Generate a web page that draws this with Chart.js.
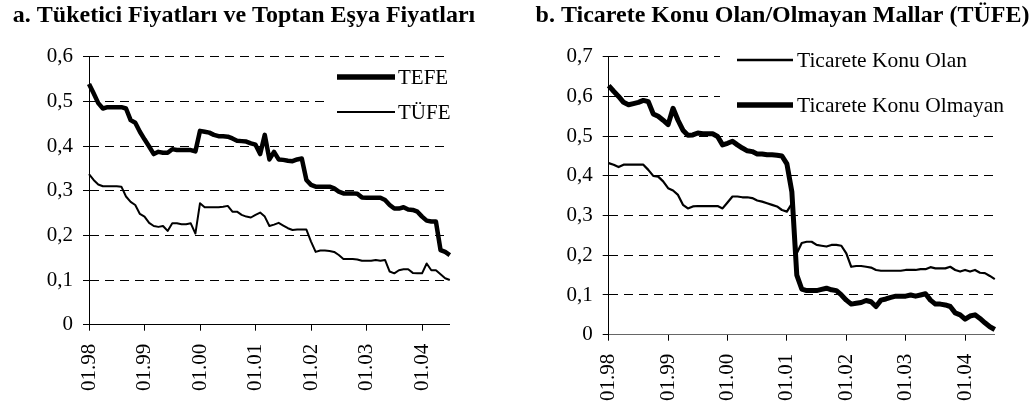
<!DOCTYPE html>
<html>
<head>
<meta charset="utf-8">
<script src="https://cdn.jsdelivr.net/npm/chart.js@4.4.1/dist/chart.umd.min.js"></script>
<style>
  html, body { margin: 0; padding: 0; background: #fff; }
  body { width: 1033px; height: 406px; position: relative; overflow: hidden; }
  canvas { position: absolute; top: 0; }
  #c1 { left: 0; }
  #c2 { left: 532px; }
</style>
</head>
<body>
<canvas id="c1" width="488" height="406"></canvas>
<canvas id="c2" width="501" height="406"></canvas>
<script>
// monthly observations 01.98 - 07.04
const months = [];
for (let y = 1998; y <= 2004; y++) {
  for (let m = 1; m <= 12; m++) {
    if (y === 2004 && m > 7) break;
    months.push(String(m).padStart(2, '0') + '.' + String(y % 100).padStart(2, '0'));
  }
}

// a. TEFE / TÜFE
const tefe = [
  0.539, 0.518, 0.496, 0.484, 0.487, 0.487, 0.487, 0.487, 0.484, 0.458,
  0.452, 0.432, 0.415, 0.399, 0.382, 0.387, 0.385, 0.385, 0.393, 0.391,
  0.391, 0.391, 0.391, 0.388, 0.434, 0.432, 0.430, 0.425, 0.422, 0.422,
  0.421, 0.417, 0.412, 0.411, 0.410, 0.406, 0.403, 0.382, 0.425, 0.370,
  0.387, 0.370, 0.369, 0.367, 0.366, 0.370, 0.372, 0.324, 0.313, 0.309,
  0.309, 0.309, 0.309, 0.305, 0.298, 0.294, 0.294, 0.294, 0.293, 0.285,
  0.284, 0.284, 0.284, 0.284, 0.279, 0.268, 0.260, 0.260, 0.263, 0.258,
  0.257, 0.253, 0.242, 0.233, 0.231, 0.231, 0.167, 0.163, 0.156
];
const tufe = [
  0.337, 0.324, 0.314, 0.310, 0.310, 0.310, 0.310, 0.309, 0.287, 0.275,
  0.268, 0.248, 0.242, 0.228, 0.221, 0.219, 0.221, 0.210, 0.227, 0.227,
  0.225, 0.225, 0.227, 0.204, 0.272, 0.263, 0.263, 0.263, 0.263, 0.264,
  0.266, 0.253, 0.253, 0.246, 0.242, 0.240, 0.246, 0.251, 0.242, 0.221,
  0.224, 0.228, 0.222, 0.216, 0.212, 0.213, 0.213, 0.213, 0.186, 0.163,
  0.166, 0.166, 0.165, 0.163, 0.156, 0.147, 0.147, 0.147, 0.146, 0.143,
  0.143, 0.143, 0.145, 0.143, 0.145, 0.119, 0.115, 0.122, 0.124, 0.124,
  0.116, 0.115, 0.115, 0.137, 0.122, 0.122, 0.113, 0.104, 0.100
];

// b. ticarete konu olan / olmayan mallar
const konuOlan = [
  0.432, 0.428, 0.422, 0.428, 0.428, 0.428, 0.428, 0.428, 0.415, 0.400,
  0.398, 0.386, 0.369, 0.363, 0.352, 0.327, 0.318, 0.323, 0.324, 0.324,
  0.324, 0.324, 0.324, 0.318, 0.333, 0.348, 0.348, 0.346, 0.346, 0.344,
  0.338, 0.335, 0.331, 0.327, 0.323, 0.314, 0.310, 0.330, 0.205, 0.231,
  0.234, 0.234, 0.226, 0.224, 0.222, 0.226, 0.226, 0.224, 0.205, 0.171,
  0.173, 0.173, 0.171, 0.169, 0.163, 0.161, 0.161, 0.161, 0.161, 0.161,
  0.163, 0.163, 0.163, 0.165, 0.165, 0.170, 0.167, 0.167, 0.167, 0.171,
  0.163, 0.159, 0.163, 0.159, 0.163, 0.156, 0.155, 0.148, 0.140
];
const konuOlmayan = [
  0.627, 0.613, 0.600, 0.585, 0.579, 0.582, 0.585, 0.590, 0.587, 0.556,
  0.550, 0.540, 0.529, 0.570, 0.540, 0.515, 0.502, 0.503, 0.508, 0.506,
  0.506, 0.506, 0.499, 0.478, 0.482, 0.487, 0.478, 0.470, 0.463, 0.461,
  0.455, 0.455, 0.453, 0.453, 0.452, 0.450, 0.430, 0.360, 0.150, 0.115,
  0.111, 0.111, 0.111, 0.114, 0.117, 0.113, 0.111, 0.100, 0.087, 0.077,
  0.079, 0.081, 0.086, 0.083, 0.071, 0.087, 0.090, 0.094, 0.097, 0.097,
  0.097, 0.100, 0.097, 0.100, 0.103, 0.087, 0.077, 0.077, 0.075, 0.071,
  0.055, 0.050, 0.039, 0.047, 0.050, 0.041, 0.030, 0.020, 0.013
];

const SERIF = '"Liberation Serif", "Times New Roman", serif';
Chart.defaults.font.family = SERIF;
Chart.defaults.color = '#000';

// legend drawn inside the plot on a white patch (covers the grid lines)
const boxLegend = {
  id: 'boxLegend',
  beforeDatasetsDraw(chart, args, o) {
    const { ctx, chartArea } = chart;
    ctx.save();
    ctx.fillStyle = '#fff';
    ctx.fillRect(o.x, o.y, chartArea.right - o.x + 1, o.h);
    ctx.font = o.size + 'px ' + SERIF;
    ctx.textBaseline = 'middle';
    ctx.fillStyle = '#000';
    chart.data.datasets.forEach((ds, i) => {
      const y = o.rows[i];
      ctx.beginPath();
      ctx.strokeStyle = '#000';
      ctx.lineWidth = o.widths[i];
      ctx.moveTo(o.x0, y);
      ctx.lineTo(o.x1, y);
      ctx.stroke();
      ctx.fillText(ds.label, o.tx, y + 1);
    });
    ctx.restore();
  }
};

function makeChart(id, cfg) {
  const fmt = (v) => (v === 0 ? '0' : v.toFixed(1).replace('.', ','));
  return new Chart(document.getElementById(id), {
    type: 'line',
    data: {
      labels: months,
      datasets: cfg.series.map((s) => ({
        label: s.label,
        data: s.data,
        borderColor: '#000',
        borderWidth: s.width,
        borderJoinStyle: 'round',
        pointRadius: 0,
        tension: 0,
        fill: false,
      })),
    },
    plugins: [boxLegend],
    options: {
      responsive: false,
      animation: false,
      layout: { padding: 0 },
      plugins: {
        legend: { display: false },
        tooltip: { enabled: false },
        title: {
          display: true,
          text: cfg.title,
          color: '#000',
          font: { family: SERIF, size: 24, weight: 'bold' },
          padding: { top: 1, bottom: 26.9 },
        },
        boxLegend: cfg.legend,
      },
      scales: {
        x: {
          afterFit: (s) => { s.height = cfg.xHeight; },
          grid: {
            drawOnChartArea: false,
            drawTicks: true,
            tickLength: 6,
            tickColor: (c) => (c.index % 12 === 0 ? '#000' : 'rgba(0,0,0,0)'),
            color: (c) => (c.index % 12 === 0 ? '#000' : 'rgba(0,0,0,0)'),
          },
          border: { color: cfg.xBorder, width: 1 },
          ticks: {
            autoSkip: false,
            minRotation: 90,
            maxRotation: 90,
            padding: 13,
            font: { size: 21 },
            callback: (v, i) => (i % 12 === 0 ? months[i] : ''),
          },
        },
        y: {
          min: 0,
          max: cfg.yMax,
          afterFit: (s) => { s.width = cfg.yWidth; },
          grid: {
            color: (c) => (c.tick && c.tick.value === 0 ? 'rgba(0,0,0,0)' : '#000'),
            tickBorderDash: [],
            tickColor: '#000',
            tickLength: 6,
          },
          border: { color: '#000', width: 1, dash: [9, 6] },
          ticks: {
            stepSize: 0.1,
            padding: 10,
            font: { size: 21 },
            callback: fmt,
          },
        },
        // empty right-hand margin so the title stays centred on the whole canvas
        yRight: {
          position: 'right',
          afterFit: (s) => { s.width = cfg.rightGap; },
          grid: { display: false },
          border: { display: false },
          ticks: { display: false },
        },
      },
    },
  });
}

makeChart('c1', {
  title: 'a. Tüketici Fiyatları ve Toptan Eşya Fiyatları',
  series: [
    { label: 'TEFE', data: tefe, width: 4.5 },
    { label: 'TÜFE', data: tufe, width: 2 },
  ],
  yMax: 0.6,
  yWidth: 89,
  rightGap: 34.7,
  xHeight: 81.3,
  xBorder: '#000',
  legend: { x: 329, y: 62, h: 64, rows: [77, 112], x0: 337, x1: 395, tx: 398, widths: [5.5, 2], size: 21 },
});

makeChart('c2', {
  title: 'b. Ticarete Konu Olan/Olmayan Mallar (TÜFE)',
  series: [
    { label: 'Ticarete Konu Olan', data: konuOlan, width: 2.2 },
    { label: 'Ticarete Konu Olmayan', data: konuOlmayan, width: 5 },
  ],
  yMax: 0.7,
  yWidth: 76.7,
  rightGap: 29.7,
  xHeight: 71.3,
  xBorder: '#666',
  legend: { x: 188, y: 44, h: 80, rows: [60, 105], x0: 205, x1: 261, tx: 265, widths: [2.5, 5.5], size: 21.5 },
});
</script>
</body>
</html>
